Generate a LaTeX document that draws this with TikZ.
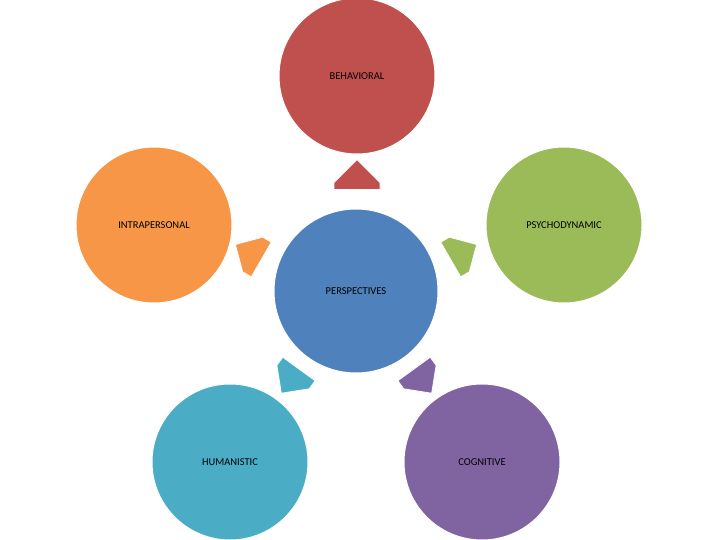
\documentclass[tikz,border=0pt]{standalone}
\usepackage{fontspec}
\setmainfont{Carlito}
\usetikzlibrary{shapes.arrows}
\definecolor{cred}{HTML}{C0504D}
\definecolor{corange}{HTML}{F79646}
\definecolor{cgreen}{HTML}{9BBB59}
\definecolor{cblue}{HTML}{4F81BD}
\definecolor{cteal}{HTML}{4BACC6}
\definecolor{cpurple}{HTML}{8064A2}
\tikzset{
 circ/.style={circle,draw=white,line width=1pt,minimum size=156pt,inner sep=0pt,font=\fontsize{10.5}{12}\selectfont,text=black},
 blk/.style={single arrow,draw=white,line width=0.8pt,minimum height=30pt,minimum width=46pt,single arrow head extend=0pt,single arrow tip angle=90,inner sep=0pt}
}
\begin{document}
\begin{tikzpicture}[x=1pt,y=1pt]
\useasboundingbox (0,0) rectangle (720,-540);
\node[circ,fill=cred] (beh) at (357,-76) {BEHAVIORAL};
\node[circ,fill=corange] (intra) at (154,-225) {INTRAPERSONAL};
\node[circ,fill=cgreen] (psy) at (564,-225) {PSYCHODYNAMIC};
\node[circ,fill=cteal] (hum) at (230,-462) {HUMANISTIC};
\node[circ,fill=cpurple] (cog) at (482,-462) {COGNITIVE};
\node[circ,fill=cblue,minimum size=164pt] (per) at (356,-291) {PERSPECTIVES};
\node[blk,fill=cred,rotate=90] (a1) at (357,-186) {};
\node[blk,fill=corange,rotate=150,minimum width=40pt] (a2) at (257,-257) {};
\node[blk,fill=cgreen,rotate=30,minimum width=40pt] (a3) at (455,-257) {};
\node[blk,fill=cteal,rotate=234,minimum width=40pt] (a4) at (296,-373) {};
\node[blk,fill=cpurple,rotate=306,minimum width=40pt] (a5) at (417,-373) {};
\end{tikzpicture}
\end{document}
